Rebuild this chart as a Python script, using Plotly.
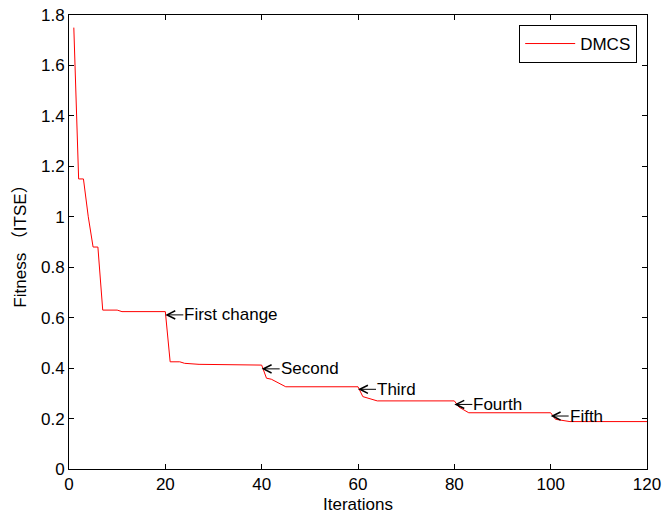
import plotly.graph_objects as go

iterations = [1, 2, 3, 4, 5, 6, 7, 10, 11, 20, 21, 23, 24, 27, 40, 41, 42, 43, 45,
              60, 61, 64, 80, 81, 83, 100, 101, 104, 120]
fitness = [1.75, 1.15, 1.15, 1.0, 0.88, 0.88, 0.63, 0.63, 0.624, 0.624, 0.425, 0.425,
           0.419, 0.415, 0.412, 0.36, 0.356, 0.346, 0.326, 0.326, 0.287, 0.27, 0.27,
           0.245, 0.223, 0.223, 0.197, 0.188, 0.188]

change_x = [20, 40, 60, 80, 100]
change_y = [0.611, 0.397, 0.316, 0.256, 0.21]
change_labels = ["First change", "Second", "Third", "Fourth", "Fifth"]

x_ticks = [0, 20, 40, 60, 80, 100, 120]
y_ticks = [0, 0.2, 0.4, 0.6, 0.8, 1.0, 1.2, 1.4, 1.6, 1.8]
y_ticktext = ["0", "0.2", "0.4", "0.6", "0.8", "1", "1.2", "1.4", "1.6", "1.8"]

FONT = "Liberation Sans, Arial, Noto Sans CJK SC, sans-serif"
FS = 17

fig = go.Figure()
fig.add_trace(go.Scatter(x=iterations, y=fitness, mode="lines", name="DMCS",
                         line=dict(color="#ff0000", width=1)))

for cx, cy, lab in zip(change_x, change_y, change_labels):
    fig.add_annotation(x=cx, y=cy, text=lab,
                       showarrow=True, arrowhead=5, arrowsize=1.6, arrowwidth=1,
                       arrowcolor="black", ax=18, ay=0, xanchor="left", yanchor="middle",
                       borderpad=0, standoff=0,
                       font=dict(family=FONT, size=FS, color="black"))

axis_common = dict(showgrid=False, zeroline=False, showline=True, mirror="ticks",
                   linecolor="black", linewidth=1, ticks="inside", ticklen=5,
                   tickcolor="black", automargin=False,
                   tickfont=dict(family=FONT, size=FS, color="black"))

fig.update_xaxes(range=[0, 120], tickvals=x_ticks,
                 title=dict(text="Iterations", font=dict(family=FONT, size=FS, color="black"),
                            standoff=4),
                 **axis_common)
fig.update_yaxes(range=[0, 1.8], tickvals=y_ticks, ticktext=y_ticktext,
                 title=dict(text="Fitness \uff08ITSE\uff09",
                            font=dict(family=FONT, size=FS, color="black"),
                            standoff=10),
                 **axis_common)

fig.update_layout(
    width=662, height=515,
    margin=dict(l=69, r=15, t=15, b=46),
    plot_bgcolor="white", paper_bgcolor="white",
    font=dict(family=FONT, size=FS, color="black"),
    showlegend=True,
    legend=dict(x=0.983, y=0.978, xanchor="right", yanchor="top",
                bordercolor="black", borderwidth=1, bgcolor="white",
                itemwidth=50,
                font=dict(family=FONT, size=FS, color="black")),
)

fig.write_html("out.html")
